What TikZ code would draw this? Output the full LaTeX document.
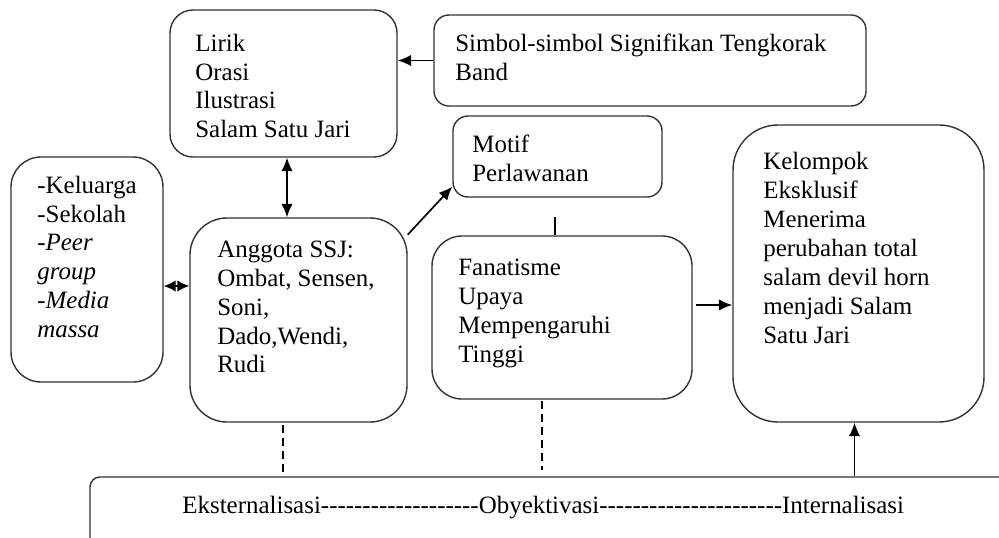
\documentclass[tikz,border=0pt]{standalone}
\usepackage{fontspec}
\setmainfont{Liberation Serif}
\usetikzlibrary{fit,calc,arrows.meta}

\newcommand\diagfont{\fontsize{14.2pt}{16.45pt}\selectfont}
\newcommand\dashrun[1]{\foreach \k in {1,...,#1}{-\kern0pt}}

\tikzset{
  >={Latex[length=0.27cm, width=0.23cm]},
  box/.style={draw=black!80, line width=0.8pt, inner sep=0pt},
  boxtext/.style={anchor=north west, inner sep=0pt, align=left,
    font=\diagfont, execute at begin node=\strut},
  link/.style={line width=0.95pt},
  dashlink/.style={line width=0.8pt, dash pattern=on 0.16cm off 0.1cm}
}

\begin{document}
\begin{tikzpicture}[x=0.02cm, y=-0.02cm]

\useasboundingbox (0,0) rectangle (999,537);
\clip (0,0) rectangle (999,537);

% Boxes
\node[box, rounded corners=0.46cm, fit={(170,10) (397,157)}] (lirik) {};
\node[box, rounded corners=0.3cm, fit={(434,15) (866,106)}] (simbol) {};
\node[box, rounded corners=0.3cm, fit={(453,116) (662,197)}] (motif) {};
\node[box, rounded corners=0.6cm, fit={(11,157) (163,382)}] (keluarga) {};
\node[box, rounded corners=0.74cm, fit={(190,218) (407,422)}] (anggota) {};
\node[box, rounded corners=0.6cm, fit={(432,236) (692,399)}] (fanatisme) {};
\node[box, rounded corners=0.9cm, fit={(733,125) (984,422)}] (kelompok) {};
\node[box, rounded corners=0.2cm, fit={(90,477) (1100,600)}] (ext) {};

% Texts
\node[boxtext] (lirik_t) at (195,33.5) {Lirik\\Orasi\\Ilustrasi\\Salam Satu Jari};
\node[boxtext] (simbol_t) at (455,33.5) {Simbol-simbol Signifikan Tengkorak\\Band};
\node[boxtext] (motif_t) at (472,134.5) {Motif\\Perlawanan};
\node[boxtext] (keluarga_t) at (37,175.5)
  {-Keluarga\\-Sekolah\\\textit{-Peer}\\\textit{group}\\\textit{-Media}\\\textit{massa}};
\node[boxtext] (anggota_t) at (217,240.5)
  {Anggota SSJ:\\Ombat, Sensen,\\Soni,\\Dado,Wendi,\\Rudi};
\node[boxtext] (fanatisme_t) at (458,258.5)
  {Fanatisme\\Upaya\\Mempengaruhi\\Tinggi};
\node[boxtext] (kelompok_t) at (763,152)
  {Kelompok\\Eksklusif\\Menerima\\perubahan total\\salam devil horn\\menjadi Salam\\Satu Jari};
\node[anchor=base west, inner sep=0pt, font=\diagfont] (ext_t) at (182,513)
  {Eksternalisasi\dashrun{19}Obyektivasi\dashrun{22}Internalisasi};

% Arrows
\draw[link, ->] (simbol.west) -- (simbol.west -| lirik.east);
\draw[link, <->] ([xshift=0.07cm]lirik.south) -- ([xshift=0.07cm]lirik.south |- anggota.north);
\draw[link, {Latex[length=0.24cm, width=0.23cm]}-{Latex[length=0.24cm, width=0.23cm]}]
  (keluarga.east |- 0,286) -- (anggota.west |- 0,286);
\draw[link, ->] (anggota.38) -- (motif.196);
\coordinate (tick) at (555,217);
\draw[link] (tick) -- (tick |- fanatisme.north);
\coordinate (f_out) at (696,305);
\draw[link, ->] (f_out) -- (f_out -| kelompok.west);
\draw[link, ->] ([xshift=-0.08cm]kelompok.south |- ext.north) -- ([xshift=-0.08cm]kelompok.south);

% Dashed links down to the bottom box
\coordinate (a_dash) at (283,425);
\draw[dashlink] (a_dash) -- ++(0,47);
\coordinate (f_dash) at (542,401);
\draw[dashlink] (f_dash) -- ++(0,69);

\end{tikzpicture}
\end{document}
